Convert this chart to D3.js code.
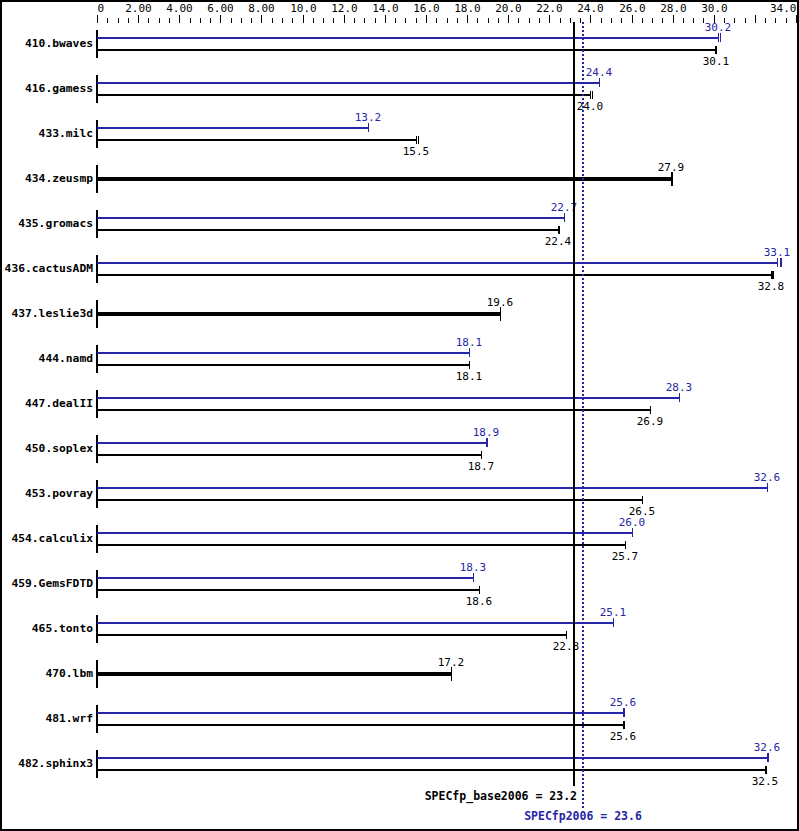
<!DOCTYPE html>
<html>
<head>
<meta charset="utf-8">
<script src="https://cdn.jsdelivr.net/npm/d3@7"></script>
<style>
html,body{margin:0;padding:0;background:#fff;}
svg{display:block;}
</style>
</head>
<body>
<div id="chart"></div>
<script>
// ---- data ----
const categories = ["410.bwaves","416.gamess","433.milc","434.zeusmp","435.gromacs","436.cactusADM","437.leslie3d","444.namd","447.dealII","450.soplex","453.povray","454.calculix","459.GemsFDTD","465.tonto","470.lbm","481.wrf","482.sphinx3"];
// peak (blue); null = only one result shown (base = peak)
const peakValues = [30.2,24.4,13.2,null,22.7,33.1,null,18.1,28.3,18.9,32.6,26.0,18.3,25.1,null,25.6,32.6];
const baseValues = [30.1,24.0,15.5,27.9,22.4,32.8,19.6,18.1,26.9,18.7,26.5,25.7,18.6,22.8,17.2,25.6,32.5];
// individual run results (end tick marks)
const peakRuns = [[30.2,30.3],[24.4],[13.2],[],[22.7],[33.1,33.2,33.25],[],[18.1],[28.3],[18.9,18.95],[32.6],[26.0],[18.3],[25.1],[],[25.6,25.65],[32.6,32.65]];
const baseRuns = [[30.1,30.05],[24.0,24.1],[15.5,15.6],[27.9,27.95],[22.4,22.45],[32.8,32.85,32.9],[19.6],[18.1],[26.9],[18.7],[26.5],[25.7],[18.6],[22.8],[17.2],[25.6,25.65],[32.5,32.55]];
const baseMetricLabel = "SPECfp_base2006 = 23.2";
const peakMetricLabel = "SPECfp2006 = 23.6";
const baseMetric = 23.2;
const peakMetric = 23.6;
const minorTicks = d3.range(0, 34.01, 0.5);
const majorTicks = [0,2,4,6,8,10,12,14,16,18,20,22,24,26,28,30,32,34];
const tickLabels = ["0","2.00","4.00","6.00","8.00","10.0","12.0","14.0","16.0","18.0","20.0","22.0","24.0","26.0","28.0","30.0","","34.0"];

// ---- layout ----
const W = 799, H = 831;
const BLUE = "#2626a6";
const FONT = "'DejaVu Sans Mono', 'Liberation Mono', monospace";

const svg = d3.select("#chart").append("svg").attr("width", W).attr("height", H);

svg.append("rect").attr("x", 1).attr("y", 1).attr("width", W - 2).attr("height", H - 2)
  .attr("fill", "#fff").attr("stroke", "#000").attr("stroke-width", 2);

const x = d3.scaleLinear().domain([0, 34]).rangeRound([97, 796]);
const rowY = d3.scaleLinear().domain([0, 1]).range([44, 89]); // row centre

// top axis
const axisY = 23;
const gMinor = svg.append("g").attr("transform", `translate(0,${axisY})`)
  .call(d3.axisTop(x).tickValues(minorTicks).tickSize(5).tickFormat(""));
gMinor.select(".domain").remove();
const gMajor = svg.append("g").attr("transform", `translate(0,${axisY})`)
  .call(d3.axisTop(x).tickValues(majorTicks).tickSize(8).tickPadding(3)
    .tickFormat((d, i) => tickLabels[i]));
gMajor.select(".domain").remove();
gMajor.selectAll("text").attr("font-family", FONT).attr("font-size", "11px").attr("fill", "#000")
  .attr("text-anchor", (d, i) => i === 0 ? "start" : (i === majorTicks.length - 1 ? "end" : "middle"));
svg.selectAll(".tick line").attr("stroke", "#000");

const rows = svg.append("g");
categories.forEach((cat, i) => {
  const c = Math.round(rowY(i));
  const g = rows.append("g");
  // row axis segment
  g.append("line").attr("x1", x(0)).attr("x2", x(0)).attr("y1", c - 14).attr("y2", c + 14)
    .attr("stroke", "#000").attr("stroke-width", 2);
  g.append("text").attr("x", 93).attr("y", c + 3).attr("text-anchor", "end")
    .attr("font-family", FONT).attr("font-size", "11.3px").attr("font-weight", "bold")
    .attr("fill", "#000").text(cat);
  const pv = peakValues[i], bv = baseValues[i];
  if (pv === null) {
    g.append("line").attr("x1", x(0)).attr("x2", x(bv)).attr("y1", c).attr("y2", c)
      .attr("stroke", "#000").attr("stroke-width", 4);
    baseRuns[i].forEach(r => {
      g.append("line").attr("x1", x(r) + 0.5).attr("x2", x(r) + 0.5).attr("y1", c - 7).attr("y2", c + 7)
        .attr("stroke", "#000").attr("stroke-width", 1);
    });
    g.append("text").attr("x", x(bv)).attr("y", c - 8).attr("text-anchor", "middle")
      .attr("font-family", FONT).attr("font-size", "11px").attr("fill", "#000").text(bv.toFixed(1));
  } else {
    const yb = c - 6, yk = c + 6;
    g.append("line").attr("x1", x(0)).attr("x2", x(pv)).attr("y1", yb).attr("y2", yb)
      .attr("stroke", BLUE).attr("stroke-width", 2);
    peakRuns[i].forEach(r => {
      g.append("line").attr("x1", x(r) + 0.5).attr("x2", x(r) + 0.5).attr("y1", yb - 5).attr("y2", yb + 4)
        .attr("stroke", BLUE).attr("stroke-width", 1);
    });
    g.append("text").attr("x", x(pv)).attr("y", yb - 7).attr("text-anchor", "middle")
      .attr("font-family", FONT).attr("font-size", "11px").attr("fill", BLUE).text(pv.toFixed(1));
    g.append("line").attr("x1", x(0)).attr("x2", x(bv)).attr("y1", yk).attr("y2", yk)
      .attr("stroke", "#000").attr("stroke-width", 2);
    baseRuns[i].forEach(r => {
      g.append("line").attr("x1", x(r) + 0.5).attr("x2", x(r) + 0.5).attr("y1", yk - 4).attr("y2", yk + 4)
        .attr("stroke", "#000").attr("stroke-width", 1);
    });
    g.append("text").attr("x", x(bv)).attr("y", yk + 15).attr("text-anchor", "middle")
      .attr("font-family", FONT).attr("font-size", "11px").attr("fill", "#000").text(bv.toFixed(1));
  }
});

// metric lines
svg.append("line").attr("x1", x(baseMetric)).attr("x2", x(baseMetric)).attr("y1", 22).attr("y2", 786)
  .attr("stroke", "#000").attr("stroke-width", 2);
svg.append("line").attr("x1", x(peakMetric) + 1).attr("x2", x(peakMetric) + 1).attr("y1", 22).attr("y2", 808)
  .attr("stroke", BLUE).attr("stroke-width", 2).attr("stroke-dasharray", "2,2");
svg.append("text").attr("x", x(baseMetric) + 3).attr("y", 800).attr("text-anchor", "end")
  .attr("font-family", FONT).attr("font-size", "11.5px").attr("font-weight", "bold").attr("fill", "#000")
  .text(baseMetricLabel);
svg.append("text").attr("x", x(peakMetric) + 1).attr("y", 820).attr("text-anchor", "middle")
  .attr("font-family", FONT).attr("font-size", "11.5px").attr("font-weight", "bold").attr("fill", BLUE)
  .text(peakMetricLabel);
</script>
</body>
</html>
